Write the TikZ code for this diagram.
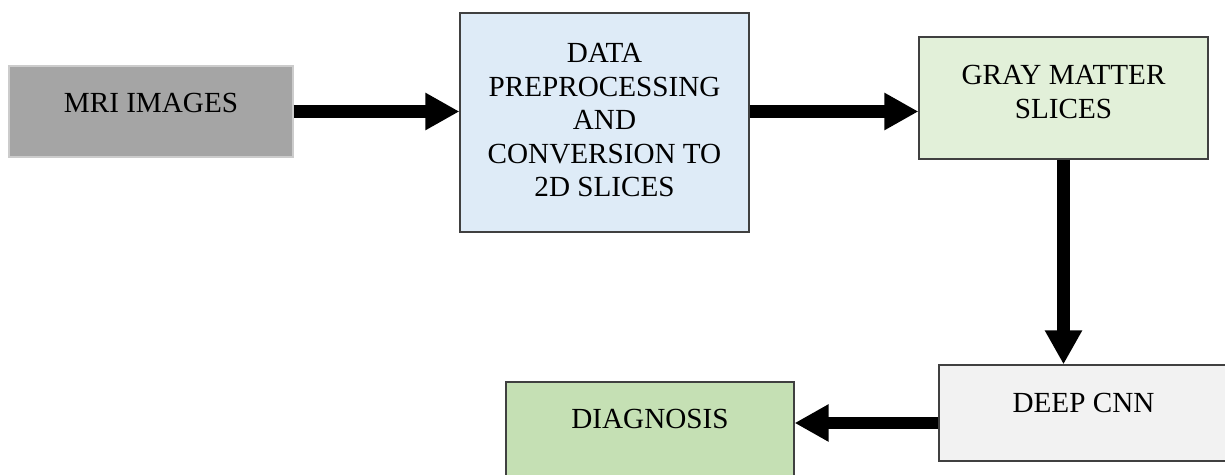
\documentclass[tikz,border=0pt]{standalone}
\usepackage{fontspec}
\setmainfont{Liberation Serif}
\usetikzlibrary{arrows.meta}

\definecolor{mriFill}{HTML}{A5A5A5}
\definecolor{dataFill}{HTML}{DEEBF7}
\definecolor{grayFill}{HTML}{E2F0D9}
\definecolor{cnnFill}{HTML}{F2F2F2}
\definecolor{diagFill}{HTML}{C5E0B4}

\begin{document}
\begin{tikzpicture}[x=0.02cm, y=-0.02cm,
    blok/.style={draw=black!75, line width=0.7pt, inner sep=0pt},
    txt/.style={font=\fontsize{16.6pt}{19pt}\selectfont, align=center, inner sep=0pt},
    strelka/.style={line width=0.25cm, -{Triangle[length=0.68cm, width=0.7cm]}}]
    \useasboundingbox (0,0) rectangle (1225,475);

    % Блоки схемы
    \node[blok, draw=black!20, fill=mriFill, minimum width=5.68cm, minimum height=1.82cm] (mri) at (151,111.5) {};
    \node[blok, fill=dataFill, minimum width=5.78cm, minimum height=4.38cm] (data) at (604.5,122.5) {};
    \node[blok, fill=grayFill, minimum width=5.78cm, minimum height=2.44cm] (gray) at (1063.5,98) {};
    \node[blok, fill=cnnFill, minimum width=5.74cm, minimum height=1.92cm] (cnn) at (1082.5,413) {};
    \node[blok, fill=diagFill, minimum width=5.76cm, minimum height=2cm] (diag) at (650,432) {};

    % Подписи (текст прижат к верху блока)
    \node[txt, anchor=base] (mriTxt) at (151,112.7) {MRI IMAGES};
    \node[txt, anchor=north] (dataTxt) at (604.5,43.3) {DATA\\PREPROCESSING\\AND\\CONVERSION TO\\2D SLICES};
    \node[txt, anchor=north] (grayTxt) at (1063.5,65.3) {GRAY MATTER\\SLICES};
    \node[txt, anchor=base] (cnnTxt) at (1083.5,412.7) {DEEP CNN};
    \node[txt, anchor=base] (diagTxt) at (650,428.7) {DIAGNOSIS};

    % Стрелки
    \draw[strelka] (mri.east) -- (mri.east -| data.west);
    \draw[strelka] (mri.east -| data.east) -- (mri.east -| gray.west);
    \draw[strelka] (gray.south) -- (gray.south |- cnn.north);
    \draw[strelka] ([yshift=-0.2cm]cnn.west) -- ([yshift=-0.2cm]cnn.west -| diag.east);
\end{tikzpicture}
\end{document}
